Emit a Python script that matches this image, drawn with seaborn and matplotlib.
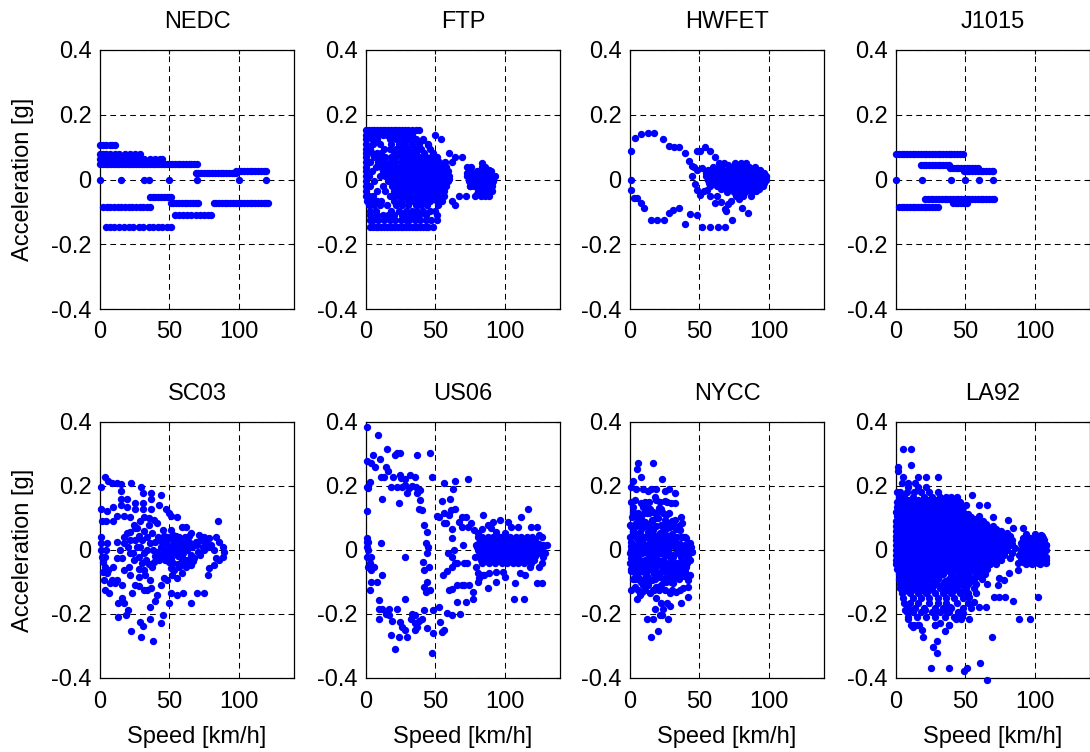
import matplotlib
matplotlib.use("Agg")
import matplotlib.pyplot as plt
import seaborn as sns
import pandas as pd

sns.set_style("white")
plt.rcParams["font.family"] = ["Liberation Sans", "DejaVu Sans"]
plt.rcParams["axes.unicode_minus"] = False
plt.rcParams["text.color"] = "black"
plt.rcParams["axes.labelcolor"] = "black"
plt.rcParams["xtick.color"] = "black"
plt.rcParams["ytick.color"] = "black"

cycles = ["NEDC", "FTP", "HWFET", "J1015", "SC03", "US06", "NYCC", "LA92"]
speed_ticks = [0, 50, 100]
accel_ticks = [-0.4, -0.2, 0, 0.2, 0.4]
accel_tick_labels = ["-0.4", "-0.2", "0", "0.2", "0.4"]

# Each cycle: bands of (acceleration [g], [speeds km/h]) and loose (speed, acceleration) points
nedc_rows = [
    (0.106, [0, 2, 4, 7, 9, 11]),
    (0.078, [0, 2, 4, 7, 11, 14, 18, 22, 25, 29]),
    (0.062, [0, 2, 4, 6, 8, 10, 12, 14, 16, 18, 20, 24, 28, 32, 36, 40, 43, 45]),
    (0.047, [0, 2, 4, 6, 8, 10, 12, 14, 16, 18, 20, 22, 24, 26, 28, 30, 32, 34, 36,
             38, 40, 42, 44, 46, 48, 50, 52, 54, 56, 58, 60, 62, 64, 66, 68, 70]),
    (0.027, [98, 100, 102, 104, 106, 108, 110, 112, 114, 116, 118, 120]),
    (0.021, [69, 71, 73, 75, 77, 79, 81, 83, 85, 87, 89, 91, 93, 95, 97, 98]),
    (0.0, [0, 15, 32, 35, 50, 70, 100, 120]),
    (-0.053, [36, 38, 40, 42, 44, 46, 48, 50, 51]),
    (-0.074, [51, 53, 55, 57, 59, 61, 63, 65, 67, 69, 71, 82, 84, 86, 88, 90, 92,
              94, 96, 98, 100, 102, 104, 106, 108, 110, 112, 114, 116, 118, 120, 121]),
    (-0.084, [2, 5, 7, 10, 13, 15, 18, 21, 23, 26, 29, 31, 34, 36]),
    (-0.110, [54, 57, 60, 63, 66, 69, 72, 75, 78, 80]),
    (-0.146, [4, 7, 10, 14, 17, 21, 24, 28, 31, 35, 38, 42, 45, 48, 51]),
]
nedc_pts = [(21, 0.055), (22, 0.060), (23, 0.066), (26, 0.056), (27, 0.061), (28, 0.067)]

ftp_rows = [
    (0.152, [0, 2, 4, 6, 8, 10, 12, 14, 16, 18, 20, 22, 24, 26, 28, 30, 33, 36, 38]),
    (0.136, [0, 3, 6, 9, 12, 15, 18, 21, 24, 27, 30, 33, 50]),
    (0.124, [0, 4, 8, 17, 22, 27, 31, 36, 41, 54]),
    (0.110, [0, 5, 10, 18, 24, 28, 33, 38, 45]),
    (0.095, [0, 3, 13, 17, 22, 26, 30, 35, 40, 46]),
    (0.082, [0, 4, 8, 11, 20, 24, 28, 32, 36, 42, 48, 60]),
    (0.068, [0, 6, 10, 14, 18, 22, 26, 30, 34, 38, 43, 47, 51, 64, 69]),
    (0.054, [0, 3, 9, 13, 17, 21, 25, 29, 33, 37, 41, 45, 49, 53, 57, 62]),
    (0.040, [0, 7, 11, 15, 19, 22, 25, 28, 31, 34, 37, 40, 43, 46, 49, 52, 55, 58, 73, 76, 84]),
    (0.025, [0, 4, 12, 16, 20, 23, 26, 29, 32, 35, 38, 41, 44, 47, 50, 53, 56, 59, 75, 80,
             84, 87, 90]),
    (0.010, [0, 2, 10, 14, 18, 22, 25, 28, 31, 34, 37, 40, 43, 46, 49, 52, 55, 58, 60, 73,
             76, 79, 82, 85, 88, 91]),
    (-0.005, [0, 6, 16, 20, 23, 26, 29, 32, 35, 38, 41, 44, 47, 50, 53, 56, 59, 74, 77, 80,
              83, 86, 89, 92]),
    (-0.020, [0, 3, 12, 19, 22, 25, 28, 31, 34, 37, 40, 43, 46, 49, 52, 55, 58, 75, 78, 81,
              84, 87, 90]),
    (-0.035, [0, 8, 14, 20, 23, 26, 29, 32, 35, 38, 41, 44, 47, 50, 53, 56, 81, 85, 88, 91]),
    (-0.050, [0, 2, 5, 17, 21, 24, 28, 32, 36, 40, 44, 48, 52, 56, 67, 72, 79, 83, 86, 89]),
    (-0.066, [1, 4, 8, 11, 20, 25, 30, 34, 38, 42, 46, 51, 55, 62]),
    (-0.080, [2, 6, 10, 15, 22, 26, 30, 36, 40, 44, 52, 64]),
    (-0.096, [3, 7, 18, 24, 29, 33, 37, 41, 46, 50]),
    (-0.111, [3, 8, 12, 16, 20, 26, 30, 34, 38, 43, 51]),
    (-0.126, [3, 5, 9, 13, 17, 21, 25, 29, 31, 35, 39, 43, 47, 51]),
    (-0.146, [3, 5, 7, 9, 11, 13, 15, 17, 19, 21, 23, 25, 27, 29, 31, 33, 35, 37, 39, 41,
              43, 45, 48]),
    (0.032, [24, 27, 30, 33, 36, 39, 42, 45, 48, 51, 54, 57]),
    (0.002, [24, 27, 30, 33, 36, 39, 42, 45, 48, 51, 54, 57, 60]),
    (-0.028, [24, 27, 30, 33, 36, 39, 42, 45, 48, 51, 54]),
    (0.017, [78, 81, 86, 89]),
    (-0.012, [76, 79, 82, 85, 88, 91]),
]
ftp_pts = [(84, 0.050), (86, 0.040), (89, 0.030), (92, 0.000), (91, -0.020), (87, -0.042),
           (80, -0.045), (73, 0.020), (74, 0.000), (75, -0.020), (45, 0.106), (41, 0.123),
           (93, 0.010)]

hwfet_rows = [
    (0.050, [76, 80, 84]),
    (0.040, [60, 64, 72, 75, 78, 82, 86, 90]),
    (0.030, [56, 62, 66, 70, 73, 76, 79, 82, 85, 88, 91, 94]),
    (0.020, [55, 58, 63, 67, 70, 72, 74, 77, 80, 83, 86, 89, 92, 95, 97]),
    (0.010, [55, 59, 62, 66, 69, 71, 73, 75, 78, 81, 84, 87, 90, 93, 96, 98]),
    (0.000, [56, 60, 64, 67, 70, 72, 74, 76, 79, 82, 85, 88, 91, 94, 97, 98]),
    (-0.010, [57, 61, 65, 69, 71, 73, 75, 77, 80, 83, 86, 89, 92, 95, 97]),
    (-0.020, [58, 63, 68, 72, 74, 76, 79, 82, 85, 88, 91, 94, 96]),
    (-0.030, [66, 72, 75, 78, 81, 84, 87, 90, 93]),
    (-0.040, [70, 75, 79, 83, 88]),
]
hwfet_pts = [
    (0.5, 0.088), (3.6, 0.129), (7.7, 0.141), (13.2, 0.143), (17.5, 0.143), (23.5, 0.124),
    (28.0, 0.105), (31.7, 0.100), (35.3, 0.100), (39.6, 0.081), (42.4, 0.058), (44.4, 0.043),
    (46.0, 0.040), (48.4, 0.030), (52.3, 0.035), (0.5, -0.003), (0.7, -0.032), (3.1, -0.058),
    (5.3, -0.058), (7.7, -0.074), (10.3, -0.089), (14.9, -0.124), (19.2, -0.124),
    (24.7, -0.124), (28.0, -0.104), (31.2, -0.093), (35.3, -0.088), (39.6, -0.136),
    (43.6, -0.106), (48.0, -0.111), (52.3, -0.148), (58.0, -0.148), (63.5, -0.148),
    (68.3, -0.148), (73.9, -0.124), (81.0, -0.089), (85.0, -0.104), (45.0, 0.010),
    (46.8, -0.015), (48.0, -0.033), (50.4, -0.048), (53.2, -0.035), (55.6, -0.032),
    (58.0, -0.050), (61.2, -0.073), (62.8, -0.050), (66.0, -0.071), (68.3, -0.091),
    (69.5, -0.096), (70.7, -0.076), (73.0, -0.066), (76.7, -0.050), (79.0, -0.060),
    (81.5, -0.050), (87.5, -0.050), (90.6, -0.035), (48.0, 0.088), (50.4, 0.088),
    (54.0, 0.101), (58.0, 0.088), (61.2, 0.071), (64.0, 0.050), (66.0, 0.040),
    (67.6, 0.050), (70.7, 0.045),
]

j1015_rows = [
    (0.078, [0, 2, 4, 6, 8, 10, 12, 14, 16, 18, 20, 22, 24, 26, 28, 30, 32, 34, 36, 38, 40,
             42, 44, 46, 48]),
    (0.044, [18, 20, 22, 24, 26, 28, 30, 32, 34, 36, 38]),
    (0.034, [39, 41, 43, 45, 47, 49, 51, 53, 55, 57, 59]),
    (0.026, [49, 51, 53, 55, 57, 59, 61, 63, 65, 67, 69, 70]),
    (0.0, [0, 19, 40, 50, 60, 70]),
    (-0.059, [21, 23, 25, 27, 29, 31, 33, 35, 37, 39, 41, 43, 45, 47, 49, 51, 53, 55, 57, 59,
              61, 63, 65, 67, 69, 71]),
    (-0.072, [41, 43, 45, 47, 49, 51]),
    (-0.084, [2, 4, 6, 8, 10, 12, 14, 16, 18, 20, 22, 24, 26, 28, 30]),
]
j1015_pts = []

sc03_rows = []
sc03_pts = [
    (3.6, 0.229), (0.7, 0.196), (6.1, 0.217), (8.5, 0.210), (12.1, 0.210), (15.3, 0.206),
    (22.3, 0.210), (29.6, 0.198), (15.0, 0.185), (31.1, 0.179), (36.9, 0.179), (44.2, 0.172),
    (15.0, 0.158), (19.4, 0.158), (25.5, 0.148), (31.1, 0.148), (36.9, 0.158), (42.5, 0.141),
    (47.3, 0.127), (49.8, 0.115), (51.5, 0.106), (55.8, 0.102), (85.0, 0.091), (0.7, 0.127),
    (4.9, 0.122), (9.7, 0.133), (15.0, 0.141), (19.4, 0.133), (25.5, 0.129), (31.1, 0.129),
    (36.9, 0.127), (1.2, 0.092), (4.4, 0.091), (9.7, 0.092), (12.1, 0.106), (17.0, 0.106),
    (21.8, 0.102), (28.6, 0.092), (31.6, 0.102), (35.2, 0.099), (41.3, 0.083), (24.3, 0.078),
    (26.7, 0.068), (45.6, 0.063), (51.0, 0.063), (59.5, 0.073), (61.9, 0.071), (65.5, 0.052),
    (71.6, 0.047), (75.2, 0.042), (78.9, 0.036), (83.7, 0.042), (86.2, 0.026), (88.6, 0.010),
    (89.8, -0.005), (88.6, -0.021), (86.2, -0.031), (82.5, -0.047), (78.9, -0.057),
    (77.7, -0.078), (74.8, -0.135), (69.9, -0.135), (65.5, -0.167), (60.2, -0.135),
    (55.3, -0.141), (51.0, -0.135), (49.8, -0.167), (45.6, -0.203), (44.2, -0.229),
    (36.4, -0.179), (35.9, -0.217), (31.1, -0.238), (29.1, -0.224), (22.3, -0.252),
    (29.6, -0.273), (38.3, -0.283), (13.3, -0.210), (18.9, -0.203), (19.9, -0.188),
    (17.5, -0.167), (13.3, -0.165), (15.8, -0.151), (23.1, -0.133), (25.5, -0.109),
    (27.9, -0.113), (31.6, -0.125), (34.0, -0.125), (36.9, -0.120), (40.0, -0.158),
    (41.3, -0.141), (43.7, -0.109), (46.1, -0.089), (48.5, -0.094), (52.2, -0.078),
    (55.8, -0.089), (59.5, -0.073), (61.9, -0.052), (65.5, -0.047), (68.0, -0.026),
    (70.4, -0.005), (74.0, 0.010), (6.8, -0.133), (3.6, -0.125), (7.3, -0.104),
    (10.9, -0.104), (15.8, -0.109), (8.5, -0.094), (12.1, -0.094), (2.9, -0.094),
    (4.9, -0.073), (6.1, -0.063), (2.4, -0.068), (1.2, -0.021), (0.7, 0.000), (0.7, 0.021),
    (0.7, 0.042), (3.6, -0.021), (5.3, 0.021), (4.4, 0.000), (2.4, -0.036), (3.6, -0.052),
    (9.7, -0.052), (12.1, -0.026), (15.8, -0.026), (14.6, 0.000), (12.1, 0.026),
    (17.0, 0.021), (17.0, 0.042), (19.4, 0.052), (21.8, 0.057), (25.5, 0.068), (25.5, 0.031),
    (26.7, 0.010), (27.9, -0.021), (30.3, -0.042), (31.6, -0.063), (32.8, -0.078),
    (36.4, -0.094), (37.6, -0.052), (38.8, -0.036), (42.5, -0.031), (41.3, -0.005),
    (43.7, 0.010), (44.9, 0.026), (48.5, 0.042), (52.2, 0.036), (53.4, 0.021), (55.8, 0.010),
    (58.3, 0.000), (59.5, -0.021), (60.7, -0.042), (57.0, -0.052), (53.4, -0.063),
    (51.0, -0.057), (49.8, -0.036), (47.3, -0.021), (46.1, 0.000), (48.5, -0.010),
    (51.0, 0.000), (54.6, -0.010), (55.8, 0.026), (57.0, 0.042), (60.7, 0.021), (64.3, 0.026),
    (63.1, 0.000), (65.5, -0.016), (66.7, 0.010), (69.2, 0.026), (72.8, 0.031), (76.5, 0.021),
    (80.1, 0.016), (82.5, 0.000), (83.7, -0.026), (38.8, 0.094), (35.2, 0.078), (37.6, 0.052),
    (34.0, 0.042), (30.3, 0.031), (29.1, 0.010), (31.6, -0.010), (34.0, 0.000), (36.4, 0.021),
    (40.0, 0.026), (21.8, -0.010), (24.3, -0.031), (20.6, -0.052), (17.0, -0.063),
    (21.8, -0.078), (27.9, -0.083), (48.0, 0.020), (50.0, 0.010), (52.0, -0.010),
    (54.0, 0.005), (56.0, -0.020), (58.0, 0.015), (47.0, -0.030), (53.0, -0.040),
    (57.0, 0.030), (60.0, -0.010), (62.0, 0.010), (49.0, 0.035), (44.0, -0.015),
    (42.0, 0.040), (46.0, 0.045), (55.0, 0.045), (59.0, -0.030), (51.0, -0.025),
    (22.0, 0.030), (28.0, 0.045), (32.0, 0.060), (20.0, 0.010), (24.0, -0.010),
    (33.0, -0.030), (38.0, 0.000), (40.0, -0.020), (35.0, -0.045), (28.0, -0.060),
    (52.5, 0.048), (56.5, -0.045), (62.5, -0.030), (61.0, 0.040), (64.0, 0.045),
    (67.0, -0.035), (70.0, 0.015), (72.0, -0.015), (75.0, 0.000), (78.0, 0.010),
]

us06_rows = [
    (0.040, [84, 88, 92, 97, 100, 104, 108, 112, 116, 120]),
    (0.030, [82, 86, 90, 95, 98, 101, 104, 107, 110, 113, 116, 119, 122]),
    (0.020, [81, 85, 89, 93, 96, 98, 100, 102, 104, 106, 108, 110, 112, 114, 116, 118, 121, 125]),
    (0.010, [80, 84, 88, 92, 95, 97, 99, 101, 103, 105, 107, 109, 111, 113, 115, 117, 119, 123,
             128]),
    (0.000, [81, 85, 88, 91, 94, 96, 98, 100, 102, 104, 106, 108, 110, 112, 114, 116, 118, 121,
             126]),
    (-0.010, [82, 86, 90, 93, 95, 97, 99, 101, 103, 105, 107, 109, 111, 113, 115, 117, 119, 124]),
    (-0.020, [81, 84, 88, 92, 96, 98, 100, 102, 104, 106, 108, 110, 112, 114, 116, 118, 122]),
    (-0.030, [83, 87, 91, 94, 97, 100, 103, 106, 109, 112, 115, 118, 121]),
    (-0.040, [84, 89, 93, 98, 102, 106, 110, 114, 119]),
]
us06_pts = [
    (0.5, 0.383), (9.0, 0.359), (15.0, 0.315), (20.6, 0.297), (22.3, 0.302), (24.8, 0.302),
    (36.9, 0.297), (45.9, 0.302), (5.3, 0.297), (0.5, 0.279), (3.6, 0.273), (6.6, 0.260),
    (10.2, 0.283), (14.3, 0.258), (15.8, 0.248), (10.9, 0.229), (13.3, 0.229), (19.2, 0.229),
    (24.8, 0.234), (25.5, 0.224), (28.4, 0.221), (32.0, 0.234), (35.7, 0.229), (33.3, 0.200),
    (30.8, 0.193), (28.4, 0.203), (22.3, 0.198), (18.2, 0.196), (26.0, 0.198), (36.2, 0.196),
    (39.3, 0.188), (36.9, 0.179), (29.6, 0.179), (47.3, 0.229), (56.3, 0.208), (64.3, 0.216),
    (73.3, 0.221), (63.1, 0.190), (0.5, 0.196), (2.9, 0.214), (1.2, 0.193), (11.9, 0.158),
    (23.5, 0.148), (39.3, 0.156), (40.5, 0.125), (54.6, 0.154), (60.4, 0.158), (0.5, 0.123),
    (38.1, 0.127), (41.7, 0.078), (44.2, 0.057), (51.5, 0.106), (52.7, 0.102), (56.3, 0.115),
    (60.0, 0.109), (58.0, 0.083), (61.2, 0.125), (64.3, 0.127), (69.2, 0.104), (72.1, 0.104),
    (67.2, 0.089), (69.2, 0.073), (73.3, 0.071), (75.7, 0.083), (78.2, 0.063), (80.6, 0.052),
    (84.7, 0.109), (61.9, 0.065), (56.3, 0.083), (0.5, 0.036), (0.5, 0.026), (0.5, 0.010),
    (1.7, 0.000), (10.9, 0.021), (27.9, -0.021), (43.0, 0.021), (44.9, 0.010), (41.0, -0.036),
    (45.4, -0.052), (44.2, -0.099), (41.7, -0.117), (43.0, -0.130), (45.9, -0.125),
    (1.2, -0.052), (3.6, -0.063), (6.1, -0.052), (11.9, -0.078), (3.6, -0.099), (7.8, -0.099),
    (2.9, -0.125), (9.5, -0.156), (9.5, -0.185), (11.9, -0.185), (9.5, -0.217),
    (16.3, -0.185), (22.3, -0.185), (14.3, -0.200), (16.7, -0.203), (18.7, -0.221),
    (24.8, -0.224), (26.0, -0.242), (28.4, -0.250), (29.6, -0.271), (23.5, -0.273),
    (18.2, -0.266), (20.6, -0.309), (33.3, -0.200), (35.2, -0.203), (32.8, -0.217),
    (35.7, -0.229), (36.9, -0.240), (35.7, -0.250), (38.6, -0.221), (40.5, -0.217),
    (41.7, -0.188), (44.2, -0.245), (48.3, -0.188), (52.7, -0.179), (48.5, -0.260),
    (47.3, -0.323), (53.2, -0.224), (56.3, -0.250), (54.6, -0.255), (58.7, -0.196),
    (62.4, -0.203), (67.7, -0.200), (55.6, -0.078), (58.7, -0.065), (62.4, -0.052),
    (64.3, -0.042), (62.4, -0.021), (63.6, 0.000), (70.1, 0.016), (61.9, 0.036),
    (59.5, -0.010), (66.0, -0.040), (70.9, -0.042), (72.6, -0.042), (70.9, -0.109),
    (62.4, -0.122), (60.0, -0.125), (66.0, -0.109), (69.2, -0.109), (74.5, -0.109),
    (77.4, -0.130), (72.1, -0.161), (66.0, -0.161), (76.9, -0.154), (80.6, -0.099),
    (81.8, -0.089), (84.2, -0.078), (87.9, -0.120), (93.9, -0.099), (100.0, -0.083),
    (3.6, -0.021), (2.9, -0.042), (0.5, -0.021), (1.7, 0.026), (27.9, -0.154),
    (44.2, -0.010), (41.7, -0.063), (91.5, 0.089), (96.4, 0.094), (102.4, 0.089),
    (104.9, 0.073), (109.7, 0.073), (112.1, 0.104), (117.0, 0.128), (119.4, 0.073),
    (123.1, 0.073), (125.0, 0.047), (126.7, 0.042), (127.9, 0.016), (130.3, 0.016),
    (129.1, -0.010), (127.9, -0.021), (126.7, -0.042), (125.0, -0.052), (123.1, -0.104),
    (126.7, -0.104), (118.2, -0.052), (114.6, -0.078), (110.9, -0.073), (107.3, -0.104),
    (113.8, -0.153), (106.6, -0.153), (98.8, -0.068), (93.9, -0.068), (89.1, -0.073),
    (85.4, -0.078), (80.6, -0.073), (79.4, -0.052), (78.9, -0.021), (79.4, 0.016),
    (80.6, 0.042), (83.7, 0.065), (87.9, 0.078), (90.3, 0.068), (93.9, 0.057), (100.0, 0.052),
]

nycc_rows = [
    (0.190, [4, 19, 28]),
    (0.150, [1, 11, 14, 22, 27]),
    (0.115, [3, 6, 10, 14, 19, 24, 28]),
    (0.075, [1, 4, 11, 14, 19, 23, 26, 32, 35]),
    (0.040, [0, 4, 7, 10, 15, 17, 23, 25, 30, 34, 37, 40]),
    (0.012, [1, 5, 8, 11, 13, 16, 20, 24, 27, 29, 32, 35, 37, 41]),
    (-0.010, [0, 2, 6, 9, 12, 15, 19, 23, 25, 28, 33, 36, 39, 42]),
    (-0.040, [0, 3, 6, 9, 11, 15, 17, 22, 26, 29, 34, 38, 41]),
    (-0.065, [1, 5, 8, 12, 18, 23, 27, 30, 33, 37, 40]),
    (-0.090, [2, 5, 10, 14, 18, 24, 26, 31, 35]),
    (-0.125, [1, 6, 11, 17, 21, 25, 30, 36]),
]
nycc_pts = [
    (6.0, 0.273), (16.3, 0.273), (4.8, 0.252), (7.7, 0.227), (1.9, 0.216), (23.4, 0.222),
    (0.7, 0.196), (9.1, 0.190), (13.2, 0.185), (14.8, 0.190), (25.1, 0.184), (32.3, 0.177),
    (17.9, 0.165), (19.1, 0.156), (25.1, 0.154), (29.9, 0.146), (32.3, 0.146), (3.6, 0.156),
    (7.7, 0.146), (2.4, 0.135), (9.6, 0.135), (14.4, 0.127), (21.1, 0.130), (22.7, 0.127),
    (26.3, 0.109), (37.1, 0.104), (32.3, 0.094), (37.8, 0.083), (2.4, 0.120), (1.2, 0.104),
    (4.8, 0.104), (12.0, 0.115), (16.7, 0.120), (19.1, 0.099), (25.1, 0.094), (0.0, 0.078),
    (7.2, 0.083), (10.8, 0.089), (15.6, 0.094), (22.7, 0.078), (28.7, 0.073), (35.9, 0.063),
    (38.3, 0.042), (40.7, 0.036), (43.1, 0.021), (45.0, -0.005), (41.9, -0.021),
    (39.5, -0.036), (40.7, -0.052), (43.5, -0.078), (41.9, -0.115), (41.9, -0.148),
    (38.3, -0.120), (37.1, -0.167), (33.5, -0.130), (31.1, -0.104), (28.7, -0.133),
    (26.8, -0.167), (28.7, -0.175), (22.7, -0.167), (23.9, -0.185), (21.5, -0.203),
    (23.4, -0.203), (17.9, -0.185), (16.3, -0.217), (12.0, -0.217), (20.3, -0.253),
    (14.8, -0.273), (27.5, -0.217), (19.1, -0.151), (16.7, -0.125), (14.4, -0.133),
    (13.2, -0.109), (9.6, -0.109), (7.2, -0.141), (4.8, -0.154), (3.6, -0.115), (8.4, -0.130),
    (10.8, -0.094), (15.6, -0.094), (19.1, -0.115), (22.7, -0.109), (26.3, -0.099),
    (29.9, -0.099), (34.7, -0.078), (32.3, -0.052), (35.9, -0.042), (37.1, -0.021),
    (34.7, 0.000), (31.1, 0.016), (28.7, 0.031), (32.3, 0.042), (26.3, 0.047), (21.5, 0.052),
    (16.7, 0.063), (13.2, 0.057), (7.2, 0.057), (2.4, 0.052), (0.7, 0.026), (0.7, 0.000),
    (0.7, -0.026), (2.4, -0.052), (3.6, -0.073), (6.0, -0.083), (8.4, -0.052), (10.8, -0.031),
    (12.0, 0.000), (14.4, 0.026), (19.1, 0.026), (23.9, 0.021), (26.3, 0.000), (28.7, -0.021),
    (23.9, -0.031), (19.1, -0.052), (15.6, -0.063), (7.2, 0.000), (4.8, -0.021), (9.6, 0.021),
    (21.5, -0.010), (16.7, -0.021), (13.2, -0.042), (28.7, -0.052), (21.5, -0.073),
    (25.1, -0.068), (31.1, -0.021), (33.5, 0.021), (39.5, 0.016), (6.0, 0.031), (3.6, 0.010),
    (1.9, -0.036), (4.8, -0.047), (8.4, 0.036), (17.9, 0.005), (22.7, 0.010), (26.3, 0.026),
    (20.3, -0.031), (14.4, -0.021), (2.0, 0.060), (5.0, 0.045), (9.0, 0.070), (12.0, 0.040),
    (15.0, 0.010), (18.0, 0.045), (21.0, 0.035), (24.0, 0.060), (27.0, 0.070), (30.0, 0.050),
    (33.0, 0.065), (36.0, 0.020), (38.0, 0.000), (40.0, 0.005), (35.0, -0.010),
    (30.0, -0.035), (27.0, -0.045), (24.0, -0.055), (20.0, -0.085), (17.0, -0.075),
    (13.0, -0.060), (10.0, -0.070), (7.0, -0.030), (4.0, -0.005), (2.0, 0.015), (1.0, -0.060),
    (3.0, -0.090), (8.0, -0.100), (12.0, -0.080), (28.0, -0.085), (32.0, -0.075),
    (36.0, -0.060), (39.0, -0.080), (42.0, -0.095), (44.0, 0.010), (43.0, -0.030),
    (18.0, -0.020), (22.0, 0.000), (26.0, -0.015), (10.0, 0.010), (6.0, -0.060), (16.0, 0.090),
    (20.0, 0.100), (26.0, 0.085), (30.0, 0.090), (8.0, 0.100), (12.0, 0.130), (4.0, 0.085),
]

la92_rows = [
    (0.229, [5, 16, 22, 30]),
    (0.210, [4, 9, 14]),
    (0.197, [9, 16, 22]),
    (0.180, [1, 3, 8, 13, 18, 24, 30]),
    (0.165, [2, 6, 12, 20, 26, 32, 36, 40, 44]),
    (0.157, [4, 9, 16, 23, 29, 35, 41]),
    (0.150, [1, 4, 10, 15, 19, 23, 28, 34, 38, 42, 46]),
    (0.142, [2, 7, 12, 17, 21, 26, 31, 40, 44]),
    (0.135, [1, 3, 8, 14, 18, 25, 30, 36, 41, 45, 48]),
    (0.127, [4, 10, 14, 18, 22, 26, 30, 34, 38, 43, 47]),
    (0.120, [0, 2, 6, 12, 16, 20, 24, 28, 32, 36, 40, 44, 48]),
    (0.112, [3, 8, 12, 16, 20, 24, 28, 32, 36, 40, 44, 48, 52]),
    (0.105, [1, 4, 10, 14, 18, 22, 26, 30, 34, 38, 42, 46, 50, 60]),
    (0.097, [2, 6, 10, 14, 18, 22, 26, 30, 34, 38, 42, 46, 50, 54, 58]),
    (0.090, [0, 3, 7, 12, 16, 20, 24, 28, 32, 36, 40, 44, 48, 52, 56, 60, 63]),
    (0.082, [1, 5, 9, 13, 17, 21, 25, 29, 33, 37, 41, 45, 49, 53, 57, 61, 65]),
    (0.075, [0, 2, 6, 10, 14, 18, 22, 26, 30, 34, 38, 42, 46, 50, 54, 58, 62, 66, 70]),
    (0.067, [1, 4, 8, 12, 16, 20, 24, 28, 32, 36, 40, 44, 48, 52, 56, 60, 64, 68, 72]),
    (0.060, [0, 4, 8, 12, 16, 20, 24, 28, 32, 36, 40, 44, 48, 52, 56, 60, 64, 68, 72, 76]),
    (0.052, [2, 6, 10, 14, 18, 22, 26, 30, 34, 38, 42, 46, 50, 54, 58, 62, 66, 70, 74, 80]),
    (0.045, [0, 2, 6, 10, 14, 18, 22, 26, 30, 34, 38, 42, 46, 50, 54, 58, 62, 66, 70, 74, 78,
             82, 94, 100, 105]),
    (0.037, [1, 4, 8, 12, 16, 20, 24, 28, 32, 36, 40, 44, 48, 52, 56, 60, 64, 68, 72, 76, 80,
             92, 97, 102, 106]),
    (0.030, [0, 3, 8, 12, 16, 20, 24, 28, 32, 36, 40, 44, 48, 52, 56, 60, 64, 68, 72, 76, 80,
             84, 92, 96, 100, 104, 107]),
    (0.022, [2, 6, 10, 14, 18, 22, 26, 30, 34, 38, 42, 46, 50, 54, 58, 62, 66, 70, 74, 78, 82,
             90, 94, 98, 102, 106]),
    (0.015, [0, 1, 5, 10, 14, 18, 22, 26, 30, 34, 38, 42, 46, 50, 54, 58, 62, 66, 70, 74, 78,
             82, 91, 94, 97, 100, 103, 106, 108]),
    (0.007, [2, 6, 10, 14, 18, 22, 26, 30, 34, 38, 42, 46, 50, 54, 58, 62, 66, 70, 74, 78,
             92, 96, 100, 104, 107]),
    (0.000, [0, 3, 7, 12, 16, 20, 24, 28, 32, 36, 40, 44, 48, 52, 56, 60, 64, 68, 72, 76, 80,
             90, 93, 96, 99, 102, 105, 108]),
    (-0.007, [2, 6, 10, 14, 18, 22, 26, 30, 34, 38, 42, 46, 50, 54, 58, 62, 66, 70, 74, 78,
              91, 95, 99, 103, 107]),
    (-0.015, [0, 1, 5, 10, 14, 18, 22, 26, 30, 34, 38, 42, 46, 50, 54, 58, 62, 66, 70, 74, 78,
              89, 92, 95, 98, 101, 104, 107]),
    (-0.022, [2, 6, 10, 14, 18, 22, 26, 30, 34, 38, 42, 46, 50, 54, 58, 62, 66, 70, 74,
              90, 94, 98, 102, 106]),
    (-0.030, [0, 3, 8, 12, 16, 20, 24, 28, 32, 36, 40, 44, 48, 52, 56, 60, 64, 68, 72, 76, 90,
              93, 96, 99, 102, 105, 108]),
    (-0.037, [1, 5, 10, 15, 20, 25, 30, 35, 40, 45, 50, 55, 60, 65, 70, 92, 100, 106]),
    (-0.045, [0, 2, 6, 10, 14, 20, 26, 32, 38, 44, 50, 56, 62, 68, 72, 94, 98, 104]),
    (-0.052, [3, 8, 12, 17, 23, 29, 35, 41, 47, 53, 59, 65]),
    (-0.060, [1, 4, 8, 14, 18, 24, 30, 36, 42, 48, 54, 60, 66]),
    (-0.067, [3, 6, 12, 20, 26, 32, 38, 44, 50, 56, 62]),
    (-0.075, [2, 6, 10, 16, 22, 28, 34, 40, 46, 52, 58, 64]),
    (-0.082, [4, 8, 13, 19, 25, 31, 41, 47, 53, 59]),
    (-0.090, [2, 8, 12, 18, 24, 30, 38, 44, 50, 56, 62]),
    (-0.097, [5, 9, 15, 21, 27, 35, 41, 47, 54]),
    (-0.105, [3, 6, 10, 16, 22, 28, 34, 40, 46, 52, 58, 66]),
    (-0.112, [5, 12, 18, 25, 31, 37, 43, 49]),
    (-0.120, [3, 8, 14, 20, 26, 32, 38, 44, 56]),
    (-0.127, [6, 11, 17, 23, 35, 41, 48]),
    (-0.135, [4, 10, 16, 22, 28, 34, 40, 46, 52, 58]),
    (-0.150, [5, 12, 18, 24, 30, 36, 42, 48]),
    (-0.165, [6, 16, 24, 30, 36, 44, 52]),
    (-0.180, [8, 14, 20, 28, 34, 40, 48, 54]),
    (-0.195, [8, 12, 18, 26, 32, 38, 45]),
    (-0.210, [9, 15, 22, 28, 35, 42, 47]),
    (-0.235, [11, 13, 16, 28, 38]),
]
la92_pts = [
    (5.3, 0.315), (10.9, 0.315), (10.9, 0.266), (1.7, 0.258), (1.7, 0.248), (54.6, 0.172),
    (50.2, 0.141), (60.0, 0.141), (66.0, 0.141), (54.0, 0.104), (70.1, 0.104), (80.6, 0.094),
    (84.2, 0.068), (91.5, 0.068), (93.9, 0.050), (100.0, 0.050), (104.9, 0.047),
    (108.5, 0.016), (108.5, -0.021), (108.0, -0.042), (102.4, -0.042), (96.4, -0.042),
    (87.9, -0.042), (87.9, -0.063), (81.8, -0.073), (74.5, -0.089), (78.2, -0.094),
    (73.3, -0.109), (70.9, -0.146), (74.5, -0.146), (78.9, -0.146), (84.2, -0.158),
    (102.4, -0.146), (89.1, -0.217), (96.4, -0.217), (69.2, -0.273), (64.8, -0.179),
    (60.0, -0.179), (56.3, -0.161), (52.7, -0.146), (50.2, -0.120), (52.7, -0.217),
    (46.6, -0.217), (43.0, -0.217), (45.4, -0.200), (48.3, -0.198), (38.1, -0.234),
    (35.7, -0.252), (28.4, -0.234), (32.0, -0.227), (16.3, -0.234), (18.7, -0.250),
    (12.6, -0.240), (19.2, -0.273), (29.6, -0.283), (26.5, -0.304), (29.6, -0.323),
    (25.5, -0.370), (38.1, -0.370), (49.0, -0.377), (51.5, -0.370), (60.4, -0.352),
    (66.0, -0.405), (9.0, -0.217), (6.6, -0.188), (10.2, -0.167), (11.4, -0.188),
    (21.1, -0.188), (27.2, -0.198), (35.7, -0.188), (39.3, -0.179), (80.0, 0.030),
    (84.0, 0.020), (86.0, 0.005), (84.0, -0.010), (82.0, -0.025),
]

panel_data = {
    "NEDC": (nedc_rows, nedc_pts), "FTP": (ftp_rows, ftp_pts),
    "HWFET": (hwfet_rows, hwfet_pts), "J1015": (j1015_rows, j1015_pts),
    "SC03": (sc03_rows, sc03_pts), "US06": (us06_rows, us06_pts),
    "NYCC": (nycc_rows, nycc_pts), "LA92": (la92_rows, la92_pts),
}


def to_frame(name, rows, pts):
    speed, accel = [], []
    for a, speeds in rows:
        speed.extend(speeds)
        accel.extend([a] * len(speeds))
    for v, a in pts:
        speed.append(v)
        accel.append(a)
    return pd.DataFrame({"cycle": name, "speed": speed, "accel": accel})


df = pd.concat([to_frame(n, *panel_data[n]) for n in cycles], ignore_index=True)

W, H = 1090, 752
fig = plt.figure(figsize=(W / 100, H / 100), dpi=100)
col_left = [100, 366, 630, 896]
col_width = 194
row_span = [(50, 309), (422, 678)]

for i, name in enumerate(cycles):
    r, c = divmod(i, 4)
    top, bottom = row_span[r]
    ax = fig.add_axes([col_left[c] / W, 1 - bottom / H, col_width / W, (bottom - top) / H])
    sns.scatterplot(data=df[df["cycle"] == name], x="speed", y="accel", ax=ax,
                    color="#0000ff", s=28, linewidth=0, legend=False, clip_on=False,
                    zorder=3)
    ax.set_xlim(0, 140)
    ax.set_ylim(-0.4, 0.4)
    ax.set_xticks(speed_ticks)
    ax.set_yticks(accel_ticks)
    ax.set_yticklabels(accel_tick_labels)
    ax.grid(True, color="black", linestyle=(0, (5.5, 4.0)), linewidth=0.75)
    ax.set_axisbelow(True)
    ax.tick_params(direction="in", length=3, width=0.8, labelsize=17,
                   top=True, right=True)
    ax.tick_params(axis="x", pad=9)
    ax.tick_params(axis="y", pad=6)
    for sp in ax.spines.values():
        sp.set_visible(True)
        sp.set_color("black")
        sp.set_linewidth(0.9)
    ax.set_title(name, fontsize=17, pad=16, color="black")
    ax.set_xlabel("Speed [km/h]" if r == 1 else "", fontsize=17, labelpad=10)
    ax.set_ylabel("Acceleration [g]" if c == 0 else "", fontsize=17, labelpad=12)

fig.savefig("out.png", dpi=100, facecolor="white")
